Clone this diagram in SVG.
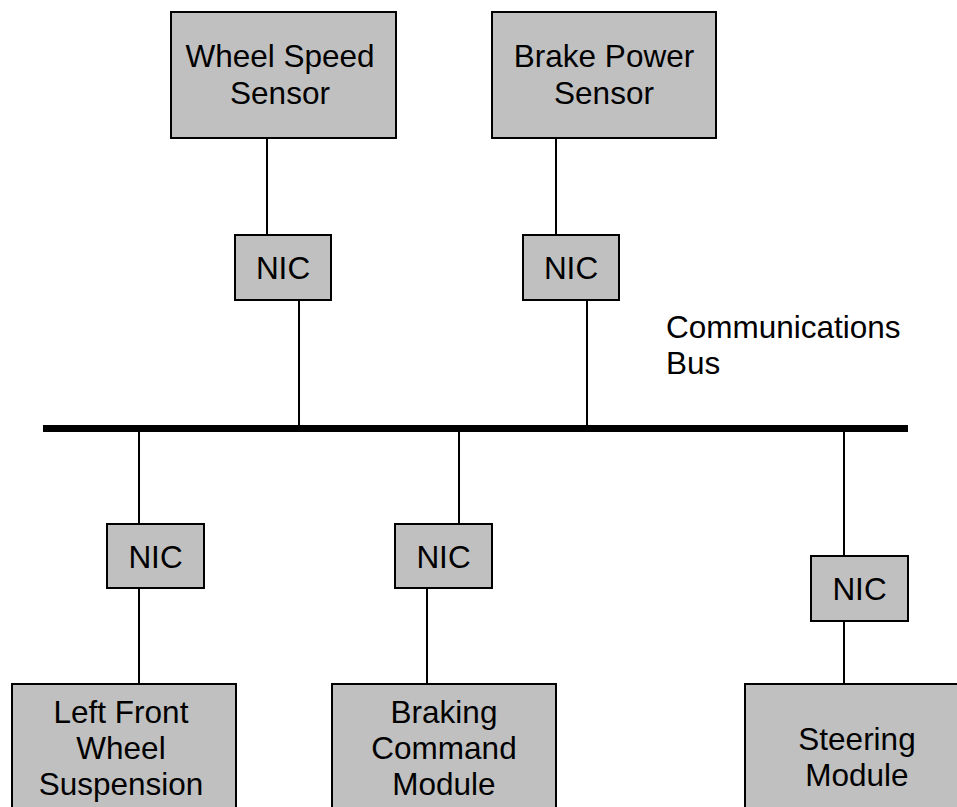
<svg xmlns="http://www.w3.org/2000/svg" width="957" height="807" viewBox="0 0 957 807">
<style>
.box{fill:#c0c0c0;stroke:#000;stroke-width:2}
.t{font-family:"Liberation Sans",Arial,sans-serif;font-size:31.5px;fill:#000;text-anchor:middle}
.l{fill:none;stroke:#000;stroke-width:2}
.bus{fill:none;stroke:#000;stroke-width:7}
</style>
<rect width="957" height="807" fill="#fff"/>
<g id="connectors">
<line class="bus" x1="43" y1="428.5" x2="908" y2="428.5"/>
<line class="l" x1="267" y1="138" x2="267" y2="235"/>
<line class="l" x1="299" y1="300" x2="299" y2="426"/>
<line class="l" x1="556" y1="138" x2="556" y2="235"/>
<line class="l" x1="587" y1="300" x2="587" y2="426"/>
<line class="l" x1="139" y1="431" x2="139" y2="524"/>
<line class="l" x1="139" y1="588" x2="139" y2="684"/>
<line class="l" x1="459" y1="431" x2="459" y2="524"/>
<line class="l" x1="427" y1="588" x2="427" y2="684"/>
<line class="l" x1="844" y1="431" x2="844" y2="556"/>
<line class="l" x1="844" y1="621" x2="844" y2="684"/>
</g>
<g id="wheel-speed-sensor">
<rect class="box" x="171" y="12" width="225" height="126"/>
<text class="t" x="280" y="67">Wheel Speed</text>
<text class="t" x="280" y="104">Sensor</text>
</g>
<g id="brake-power-sensor">
<rect class="box" x="492" y="12" width="224" height="126"/>
<text class="t" x="604" y="67">Brake Power</text>
<text class="t" x="604" y="104">Sensor</text>
</g>
<g id="nic-1">
<rect class="box" x="235" y="235" width="96" height="65"/>
<text class="t" x="283" y="279">NIC</text>
</g>
<g id="nic-2">
<rect class="box" x="523" y="235" width="96" height="65"/>
<text class="t" x="571" y="279">NIC</text>
</g>
<g id="bus-label">
<text class="t" style="text-anchor:start" x="666" y="338">Communications</text>
<text class="t" style="text-anchor:start" x="666" y="374">Bus</text>
</g>
<g id="nic-3">
<rect class="box" x="107" y="524" width="97" height="64"/>
<text class="t" x="155.5" y="567.5">NIC</text>
</g>
<g id="nic-4">
<rect class="box" x="395" y="524" width="97" height="64"/>
<text class="t" x="443.5" y="567.5">NIC</text>
</g>
<g id="nic-5">
<rect class="box" x="811" y="556" width="97" height="65"/>
<text class="t" x="859.5" y="600">NIC</text>
</g>
<g id="left-front-wheel-suspension">
<rect class="box" x="12" y="684" width="224" height="140"/>
<text class="t" x="121" y="723">Left Front</text>
<text class="t" x="121" y="759">Wheel</text>
<text class="t" x="121" y="795">Suspension</text>
</g>
<g id="braking-command-module">
<rect class="box" x="332" y="684" width="224" height="140"/>
<text class="t" x="444" y="723">Braking</text>
<text class="t" x="444" y="759">Command</text>
<text class="t" x="444" y="795">Module</text>
</g>
<g id="steering-module">
<rect class="box" x="745" y="684" width="224" height="140"/>
<text class="t" x="857" y="750">Steering</text>
<text class="t" x="857" y="786">Module</text>
</g>
</svg>
